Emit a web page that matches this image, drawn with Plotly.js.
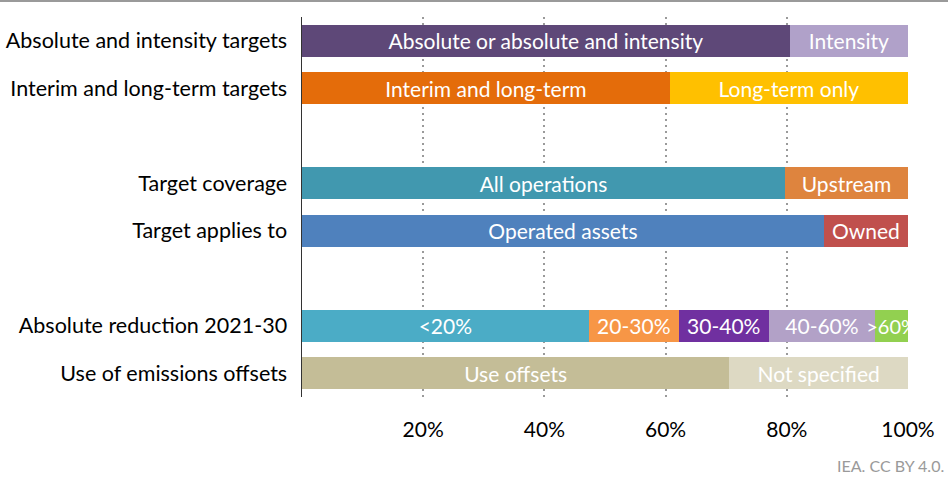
<!DOCTYPE html>
<html>
<head>
<meta charset="utf-8">
<script src="https://cdn.plot.ly/plotly-3.0.1.min.js"></script>
<style>html,body{margin:0;padding:0;background:#fff;}#chart{width:948px;height:479px;}</style>
</head>
<body>
<div id="chart"></div>
<script>
// Row categories (blank rows are spacer rows)
const rows = ['Absolute and intensity targets', 'Interim and long-term targets', ' ',
  'Target coverage', 'Target applies to', '  ',
  'Absolute reduction 2021-30', 'Use of emissions offsets'];

// Segments per row (shares, %)
const absIntLabels = ['Absolute or absolute and intensity', 'Intensity'];
const absIntValues = [80.5, 19.5];
const absIntColors = ['#5E4878', '#B0A1C9'];

const interimLabels = ['Interim and long-term', 'Long-term only'];
const interimValues = [60.7, 39.3];
const interimColors = ['#E46C0A', '#FFC000'];

const coverageLabels = ['All operations', 'Upstream'];
const coverageValues = [79.7, 20.3];
const coverageColors = ['#4198AF', '#DE843E'];

const appliesLabels = ['Operated assets', 'Owned'];
const appliesValues = [86.1, 13.9];
const appliesColors = ['#4F81BD', '#C0504D'];

const reductionLabels = ['<20%', '20-30%', '30-40%', '40-60%', '>60%'];
const reductionValues = [47.3, 14.9, 14.8, 17.6, 5.4];
const reductionColors = ['#4BACC6', '#F79646', '#7030A0', '#B2A1C7', '#92D050'];

const offsetLabels = ['Use offsets', 'Not specified'];
const offsetValues = [70.5, 29.5];
const offsetColors = ['#C4BD97', '#DDD9C3'];

const xTicks = [20, 40, 60, 80, 100];
const xTickLabels = ['20%', '40%', '60%', '80%', '100%'];

const groups = [
  {row: rows[0], labels: absIntLabels, values: absIntValues, colors: absIntColors},
  {row: rows[1], labels: interimLabels, values: interimValues, colors: interimColors},
  {row: rows[3], labels: coverageLabels, values: coverageValues, colors: coverageColors},
  {row: rows[4], labels: appliesLabels, values: appliesValues, colors: appliesColors},
  {row: rows[6], labels: reductionLabels, values: reductionValues, colors: reductionColors},
  {row: rows[7], labels: offsetLabels, values: offsetValues, colors: offsetColors}
];

const FONT = 'Lato, "Open Sans", sans-serif';
const traces = [];
groups.forEach(g => {
  g.labels.forEach((lab, i) => {
    traces.push({
      type: 'bar', orientation: 'h',
      y: [g.row], x: [g.values[i]],
      name: lab, text: [lab],
      textposition: 'inside', insidetextanchor: 'middle',
      constraintext: 'none',
      textfont: {family: FONT, size: lab === '>60%' ? 20 : 21, color: '#ffffff'},
      marker: {color: g.colors[i], line: {width: 0}},
      hoverinfo: 'skip', showlegend: false
    });
  });
});

const layout = {
  width: 948, height: 479,
  margin: {l: 302, r: 40, t: 17, b: 82, pad: 0},
  paper_bgcolor: '#ffffff', plot_bgcolor: '#ffffff',
  barmode: 'stack', bargap: 0.328,
  font: {family: FONT, size: 21, color: '#000000'},
  showlegend: false,
  xaxis: {
    range: [0, 100], tickmode: 'array', tickvals: xTicks, ticktext: xTickLabels,
    showgrid: true, gridcolor: '#9a9a9a', gridwidth: 2, griddash: '2px,4px',
    zeroline: false, showline: false, ticks: '',
    ticklabelstandoff: 18,
    tickfont: {family: FONT, size: 21, color: '#000000'},
    fixedrange: true
  },
  yaxis: {
    type: 'category', categoryorder: 'array', categoryarray: rows,
    autorange: 'reversed',
    showline: true, linecolor: '#333333', linewidth: 1.5,
    showgrid: false, zeroline: false, ticks: '',
    ticklabelstandoff: 9,
    tickfont: {family: FONT, size: 21.5, color: '#000000'},
    fixedrange: true
  },
  shapes: [{
    type: 'line', xref: 'paper', yref: 'paper',
    x0: -0.5, x1: 1.07, y0: 1.042, y1: 1.042,
    line: {color: '#9a9a9a', width: 2}
  }],
  annotations: [{
    text: 'IEA. CC BY 4.0.', xref: 'paper', yref: 'paper',
    x: 1.063, y: -0.18, xanchor: 'right', yanchor: 'middle',
    showarrow: false, font: {family: FONT, size: 16, color: '#9a9a9a'}
  }]
};

Plotly.newPlot('chart', traces, layout, {displayModeBar: false, staticPlot: true});
</script>
</body>
</html>
